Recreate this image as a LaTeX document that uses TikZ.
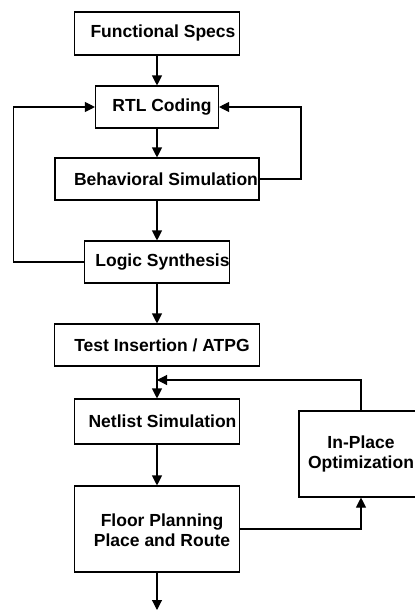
\documentclass[tikz,border=0pt]{standalone}
\usepackage{fontspec}
\setmainfont{Liberation Sans}
\usetikzlibrary{arrows.meta}
\begin{document}
\begin{tikzpicture}[x=1pt,y=-1pt,
  box/.style n args={2}{draw, line width=1.1pt, inner sep=0pt,
    minimum width=#1pt, minimum height=#2pt},
  lbl/.style={font=\bfseries\fontsize{17.5}{20}\selectfont, align=center, inner sep=0pt},
  arr/.style={-{Triangle[length=10pt,width=10pt]}, line width=1.1pt},
  line/.style={line width=1.1pt}]
\useasboundingbox (0,0) rectangle (415,611);

% flow boxes
\node[box={165}{43}] (fs)     at (157,33.5) {};
\node[box={123}{42}] (rtl)    at (157,107)  {};
\node[box={204}{42}] (behav)  at (157,179)  {};
\node[box={145}{42}] (logic)  at (157,262)  {};
\node[box={205}{42}] (test)   at (157,345)  {};
\node[box={165}{45}] (net)    at (157,421.5){};
\node[box={165}{86}] (floor)  at (157,529)  {};
\node[box={124}{86}] (ipo)    at (361,454)  {};

% box texts
\node[lbl] (fst)   at (163,33)  {Functional Specs};
\node[lbl] (rtlt)  at (162,107) {RTL Coding};
\node[lbl] (bet)   at (166,179) {Behavioral Simulation};
\node[lbl] (lot)   at (162.5,262) {Logic Synthesis};
\node[lbl] (tet)   at (162,345) {Test Insertion / ATPG};
\node[lbl] (nett)  at (162.5,421) {Netlist Simulation};
\node[lbl] (flt)   at (162,530) {Floor Planning\\Place and Route};
\node[lbl] (ipot)  at (361,454) {In-Place\\Optimization};

% helper points
\coordinate (lloop) at (13.5,0);
\coordinate (rloop) at (301,0);
\coordinate (merge) at (157,380);
\coordinate (out)   at (157,610);

% main flow
\draw[arr] (fs.south) -- (rtl.north);
\draw[arr] (rtl.south) -- (behav.north);
\draw[arr] (behav.south) -- (logic.north);
\draw[arr] (logic.south) -- (test.south |- test.north);
\draw[arr] (test.south) -- (net.north);
\draw[arr] (net.south) -- (floor.north);
\draw[arr] (floor.south) -- (out);

% iteration loops
\draw[arr] (logic.west) -- (logic.west -| lloop) |- (rtl.west);
\draw[arr] (behav.east) -- (behav.east -| rloop) |- (rtl.east);
\draw[arr] (floor.east) -| (ipo.south);
\draw[arr] (ipo.north) |- (merge);
\end{tikzpicture}
\end{document}
